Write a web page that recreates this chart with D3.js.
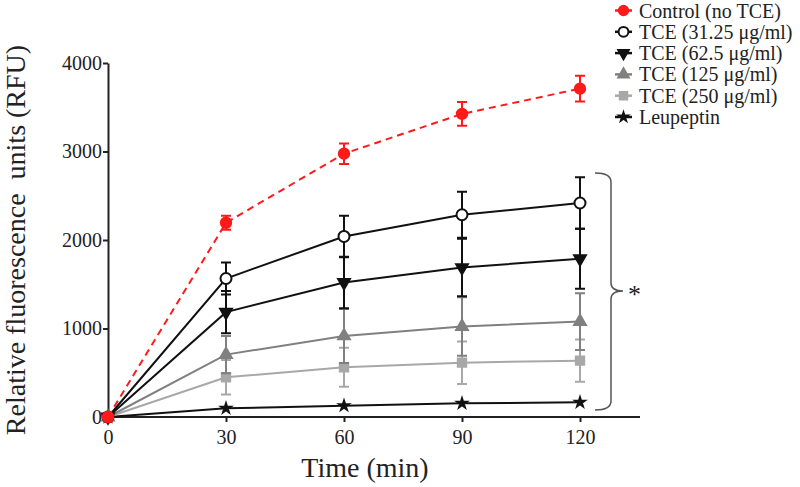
<!DOCTYPE html>
<html><head><meta charset="utf-8">
<script src="https://cdn.jsdelivr.net/npm/d3@7"></script>
<style>body{margin:0;background:#fff}svg{display:block}</style>
</head><body>
<svg id="c" width="800" height="487"></svg>
<script>
const times = [0, 30, 60, 90, 120];
const seriesNames = ["Control (no TCE)", "TCE (31.25 μg/ml)", "TCE (62.5 μg/ml)", "TCE (125 μg/ml)", "TCE (250 μg/ml)", "Leupeptin"];
const control = [0, 2195, 2975, 3425, 3710];
const controlErr = [0, 80, 115, 135, 145];
const tce31 = [0, 1565, 2040, 2285, 2418];
const tce31Err = [0, 180, 235, 260, 290];
const tce62 = [0, 1185, 1520, 1689, 1788];
const tce62Err = [0, 240, 290, 325, 340];
const tce125 = [0, 705, 916, 1022, 1078];
const tce125Err = [0, 210, 305, 330, 320];
const tce250 = [0, 449, 562, 614, 637];
const tce250Err = [0, 195, 220, 240, 240];
const leup = [0, 98, 128, 155, 166];
const leupErr = [0, 0, 0, 0, 0];
const yTicks = [0, 1000, 2000, 3000, 4000];
const xTicks = [0, 30, 60, 90, 120];

const styles = [
  {color: "#ff1a1a", dash: "7,5", sym: d3.symbolCircle, size: 85, fill: "#ff1a1a"},
  {color: "#111", dash: null, sym: d3.symbolCircle, size: 95, fill: "#fff"},
  {color: "#111", dash: null, sym: d3.symbolTriangle, size: 60, fill: "#111", rot: 180},
  {color: "#808080", dash: null, sym: d3.symbolTriangle, size: 60, fill: "#808080"},
  {color: "#a8a8a8", dash: null, sym: d3.symbolSquare, size: 70, fill: "#a8a8a8"},
  {color: "#111", dash: null, sym: d3.symbolStar, size: 28, fill: "#111"}
];
const values = [control, tce31, tce62, tce125, tce250, leup];
const errs = [controlErr, tce31Err, tce62Err, tce125Err, tce250Err, leupErr];

const svg = d3.select("#c");
const x = d3.scaleLinear().domain([0, 120]).range([108, 580]);
const y = d3.scaleLinear().domain([0, 4000]).range([417, 63]);
const font = "'Liberation Serif', 'Times New Roman', serif";

// axes
const xAx = svg.append("g").attr("transform", "translate(0,417)")
  .call(d3.axisBottom(x).tickValues(xTicks).tickFormat(d3.format("d")).tickSize(5).tickPadding(3).tickSizeOuter(0));
xAx.select(".domain").attr("d", "M108,0H640");
const yAx = svg.append("g").attr("transform", "translate(108,0)")
  .call(d3.axisLeft(y).tickValues(yTicks).tickFormat(d3.format("d")).tickSize(5).tickPadding(1).tickSizeOuter(0));
[xAx, yAx].forEach(g => {
  g.attr("font-family", font);
  g.selectAll("path,line").attr("stroke", "#222").attr("stroke-width", 2);
  g.selectAll("text").attr("font-family", font).attr("font-size", 20).attr("fill", "#222");
});
xAx.selectAll("text").attr("dy", "0.95em");

// titles
svg.append("text").attr("x", 365).attr("y", 477).attr("text-anchor", "middle")
  .attr("font-family", font).attr("font-size", 28).attr("fill", "#222").text("Time (min)");
svg.append("text").attr("transform", "translate(25,240) rotate(-90)").attr("text-anchor", "middle")
  .attr("font-family", font).attr("font-size", 28).attr("fill", "#222")
  .attr("xml:space", "preserve").text("Relative fluorescence  units (RFU)");

// series
const line = d3.line().x(d => x(d.t)).y(d => y(d.v));
const order = [5, 4, 3, 2, 1, 0];
order.forEach(i => {
  const st = styles[i];
  const pts = times.map((t, k) => ({t, v: values[i][k], e: errs[i][k]}));
  const g = svg.append("g");
  pts.filter(p => p.e > 0).forEach(p => {
    const cx = x(p.t), y1 = y(p.v + p.e), y2 = y(p.v - p.e);
    g.append("path").attr("d", `M${cx},${y1}V${y2}M${cx-5},${y1}H${cx+5}M${cx-5},${y2}H${cx+5}`)
      .attr("stroke", st.color).attr("stroke-width", 2).attr("fill", "none");
  });
  g.append("path").attr("d", line(pts)).attr("fill", "none").attr("stroke", st.color)
    .attr("stroke-width", 2).attr("stroke-dasharray", st.dash);
  g.selectAll(".m").data(pts).join("path")
    .attr("transform", p => `translate(${x(p.t)},${y(p.v)}) rotate(${st.rot || 0})`)
    .attr("d", d3.symbol().type(st.sym).size(st.size))
    .attr("fill", st.fill).attr("stroke", st.color).attr("stroke-width", 2);
});

// bracket
svg.append("path")
  .attr("d", "M595,173 Q611,173 611,182 L611,283 Q611,291 623,291 Q611,291 611,299 L611,401 Q611,410 595,410")
  .attr("fill", "none").attr("stroke", "#555").attr("stroke-width", 1.5);
svg.append("text").attr("x", 628).attr("y", 303).attr("font-family", font).attr("font-size", 26)
  .attr("fill", "#222").text("*");

// legend
const lg = svg.append("g");
seriesNames.forEach((name, i) => {
  const st = styles[i];
  const cy = 10.5 + i * 21.3;
  lg.append("line").attr("x1", 615).attr("x2", 632).attr("y1", cy).attr("y2", cy)
    .attr("stroke", st.color).attr("stroke-width", 2.5);
  lg.append("path").attr("transform", `translate(623.5,${cy}) rotate(${st.rot || 0})`)
    .attr("d", d3.symbol().type(st.sym).size(st.size * 0.8))
    .attr("fill", st.fill).attr("stroke", st.color).attr("stroke-width", 2);
  lg.append("text").attr("x", 639).attr("y", cy).attr("dy", "0.35em")
    .attr("font-family", font).attr("font-size", 20).attr("fill", "#222").text(name);
});
</script>
</body></html>
